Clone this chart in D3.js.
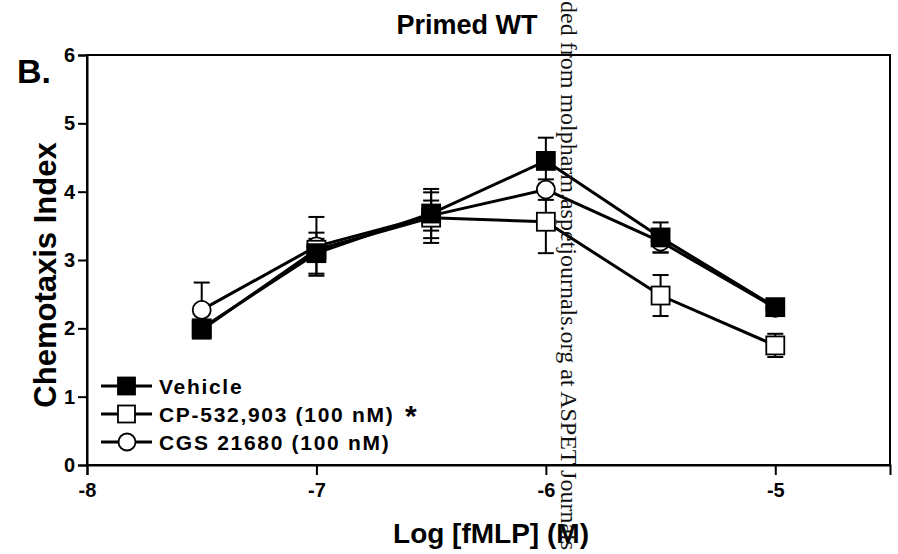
<!DOCTYPE html>
<html>
<head>
<meta charset="utf-8">
<script src="https://cdn.jsdelivr.net/npm/d3@7"></script>
<style>
  html, body { margin: 0; padding: 0; background: #fff; }
  svg { display: block; }
</style>
</head>
<body>
<svg id="chart" width="898" height="554"></svg>
<script>
// ---- data ----
const logConc = [-7.5, -7, -6.5, -6, -5.5, -5];
const vehicle    = [2.00, 3.10, 3.68, 4.45, 3.33, 2.31];
const vehicleErr = [0.06, 0.30, 0.36, 0.34, 0.22, 0.10];
const cp         = [1.98, 3.15, 3.62, 3.56, 2.48, 1.75];
const cpErr      = [0.06, 0.16, 0.37, 0.46, 0.30, 0.17];
const cgs        = [2.27, 3.20, 3.65, 4.03, 3.27, 2.30];
const cgsErr     = [0.40, 0.43, 0.22, 0.15, 0.16, 0.08];
const xTicks = [-8, -7, -6, -5];
const yTicks = [0, 1, 2, 3, 4, 5, 6];
const seriesNames = ["Vehicle", "CP-532,903 (100 nM)", "CGS 21680 (100 nM)"];

const svg = d3.select("#chart");
const x = d3.scaleLinear().domain([-8, -4.5]).range([87, 890]);
const y = d3.scaleLinear().domain([0, 6]).range([465, 55]);
const font = "Arial, 'Liberation Sans', Helvetica, sans-serif";

// frame
svg.append("rect").attr("x", x(-8)).attr("y", y(6))
  .attr("width", x(-4.5) - x(-8)).attr("height", y(0) - y(6))
  .attr("fill", "none").attr("stroke", "#000").attr("stroke-width", 2);

// axes
const yAxis = svg.append("g").attr("transform", `translate(${x(-8)},0)`)
  .call(d3.axisLeft(y).tickValues(yTicks).tickSize(9).tickPadding(3).tickFormat(d3.format("d")));
const xAxis = svg.append("g").attr("transform", `translate(0,${y(0)})`)
  .call(d3.axisBottom(x).tickValues(xTicks).tickSize(10).tickPadding(8).tickFormat(d => d3.format("d")(d).replace("−", "-")));
[yAxis, xAxis].forEach(g => {
  g.select(".domain").attr("stroke", "#000").attr("stroke-width", 2);
  g.selectAll(".tick line").attr("stroke", "#000").attr("stroke-width", 2);
  g.selectAll(".tick text").attr("fill", "#000").style("font-family", font)
    .style("font-weight", "bold").style("font-size", "20px");
});

// series
const series = [
  { name: seriesNames[2], vals: cgs, err: cgsErr, shape: "circle", fill: "#fff" },
  { name: seriesNames[1], vals: cp, err: cpErr, shape: "square", fill: "#fff" },
  { name: seriesNames[0], vals: vehicle, err: vehicleErr, shape: "square", fill: "#000" }
];
const line = d3.line().x(d => x(d[0])).y(d => y(d[1]));
const capW = 8;

series.forEach(s => {
  const g = svg.append("g");
  const pts = logConc.map((c, i) => [c, s.vals[i], s.err[i]]);
  // error bars
  pts.forEach(p => {
    const cx = x(p[0]);
    g.append("line").attr("x1", cx).attr("x2", cx)
      .attr("y1", y(p[1] - p[2])).attr("y2", y(p[1] + p[2]))
      .attr("stroke", "#000").attr("stroke-width", 2);
    [p[1] - p[2], p[1] + p[2]].forEach(v => {
      g.append("line").attr("x1", cx - capW).attr("x2", cx + capW)
        .attr("y1", y(v)).attr("y2", y(v))
        .attr("stroke", "#000").attr("stroke-width", 2);
    });
  });
  g.append("path").datum(pts).attr("d", line)
    .attr("fill", "none").attr("stroke", "#000").attr("stroke-width", 3);
});
series.forEach(s => {
  const g = svg.append("g");
  logConc.forEach((c, i) => {
    if (s.shape === "circle") {
      g.append("circle").attr("cx", x(c)).attr("cy", y(s.vals[i])).attr("r", 9)
        .attr("fill", s.fill).attr("stroke", "#000").attr("stroke-width", 1.8);
    } else {
      g.append("rect").attr("x", x(c) - 9).attr("y", y(s.vals[i]) - 9)
        .attr("width", 18).attr("height", 18)
        .attr("fill", s.fill).attr("stroke", "#000").attr("stroke-width", 1.8);
    }
  });
});

// legend
const legend = [
  { name: seriesNames[0], shape: "square", fill: "#000", star: false },
  { name: seriesNames[1], shape: "square", fill: "#fff", star: true },
  { name: seriesNames[2], shape: "circle", fill: "#fff", star: false }
];
legend.forEach((l, i) => {
  const ly = 386 + i * 28;
  const g = svg.append("g");
  g.append("line").attr("x1", 101).attr("x2", 152).attr("y1", ly).attr("y2", ly)
    .attr("stroke", "#000").attr("stroke-width", 3);
  if (l.shape === "circle") {
    g.append("circle").attr("cx", 127).attr("cy", ly).attr("r", 8.5)
      .attr("fill", l.fill).attr("stroke", "#000").attr("stroke-width", 1.8);
  } else {
    g.append("rect").attr("x", 118).attr("y", ly - 8.5).attr("width", 17).attr("height", 17)
      .attr("fill", l.fill).attr("stroke", "#000").attr("stroke-width", 1.8);
  }
  g.append("text").attr("x", 159).attr("y", ly + 7.5)
    .style("font-family", font).style("font-weight", "bold").style("font-size", "21px")
    .style("letter-spacing", "1.7px").text(l.name);
  if (l.star) {
    g.append("text").attr("x", 405).attr("y", ly + 12)
      .style("font-family", font).style("font-weight", "bold").style("font-size", "30px").text("*");
  }
});

// titles
svg.append("text").attr("x", 467).attr("y", 34).attr("text-anchor", "middle")
  .style("font-family", font).style("font-weight", "bold").style("font-size", "27px").text("Primed WT");
svg.append("text").attr("x", 17).attr("y", 83)
  .style("font-family", font).style("font-weight", "bold").style("font-size", "34px").text("B.");
svg.append("text").attr("transform", "translate(56,275) rotate(-90)").attr("text-anchor", "middle")
  .style("font-family", font).style("font-weight", "bold").style("font-size", "31px").text("Chemotaxis Index");
svg.append("text").attr("x", 491).attr("y", 543).attr("text-anchor", "middle")
  .style("font-family", font).style("font-weight", "bold").style("font-size", "28px").text("Log [fMLP] (M)");

// watermark (visible part of the vertical download stamp)
svg.append("text")
  .style("font-family", "'Liberation Serif', 'Times New Roman', serif").style("font-size", "24px")
  .attr("fill", "#111")
  .attr("transform", "translate(561,1) rotate(90)")
  .text("ded from molpharm.aspetjournals.org at ASPET Journals");
</script>
</body>
</html>
